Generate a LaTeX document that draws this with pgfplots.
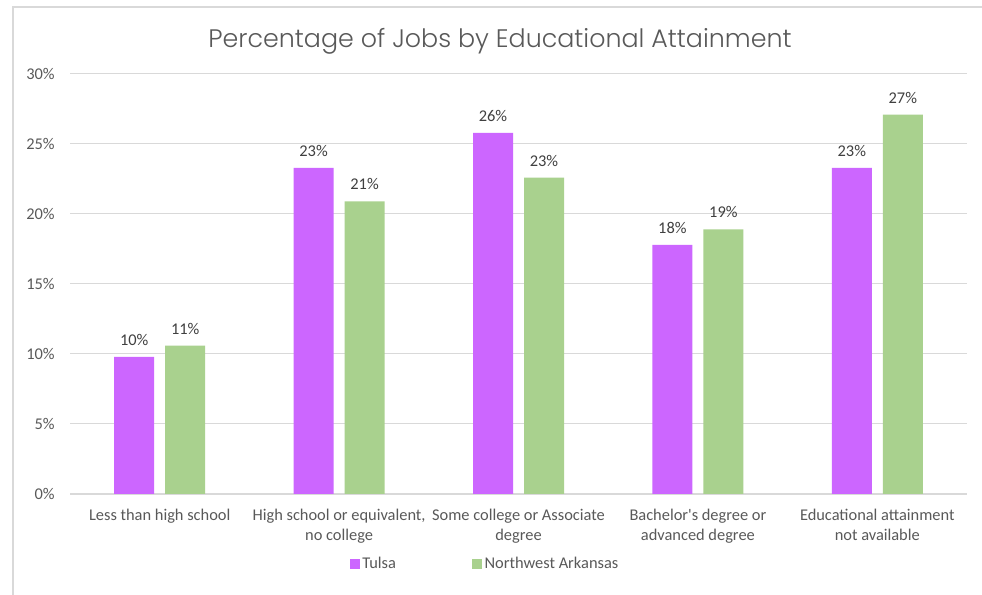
\documentclass[border=0pt]{standalone}
\usepackage{fontspec}
\setmainfont{Carlito}
\newfontfamily\titlefont{Poppins}[UprightFont={* Light}]
\usepackage{pgfplots}
\pgfplotsset{compat=1.18}
\definecolor{tulsa}{HTML}{CC66FF}
\definecolor{nwa}{HTML}{A9D18E}
\definecolor{txt}{HTML}{595959}
\definecolor{lbl}{HTML}{404040}
\definecolor{gridc}{HTML}{D9D9D9}
\begin{document}
\begin{tikzpicture}[x=0.75pt,y=0.75pt]
\useasboundingbox (0,0) rectangle (982,595);
\fill[white] (0,0) rectangle (982,595);
\draw[gridc,line width=1.2pt] (13,0) -- (13,588) -- (982,588);
\node[font=\titlefont\fontsize{19}{22}\selectfont,text=txt] at (500,554) {Percentage of Jobs by Educational Attainment};
\begin{axis}[
  at={(52.5pt,75.75pt)}, anchor=south west,
  scale only axis, width=672.75pt, height=315pt,
  ybar=8.25pt, bar width=30pt,
  xmin=-0.5, xmax=4.5, ymin=0, ymax=30,
  xtick={0,1,2,3,4},
  xticklabels={Less than high school,{High school or equivalent,\\no college},{Some college or Associate\\degree},{Bachelor\textquotesingle s degree or\\advanced degree},{Educational attainment\\not available}},
  xticklabel style={align=center,font=\fontsize{12.3}{15.5}\selectfont,text=txt,yshift=-7.5pt},
  ytick={0,5,...,30},
  yticklabel={\pgfmathprintnumber{\tick}\%},
  yticklabel style={font=\fontsize{12.3}{14}\selectfont,text=txt,xshift=-8pt},
  /pgf/number format/assume math mode=true,
  major tick length=0pt,
  xtick style={draw=none}, ytick style={draw=none},
  ymajorgrids, grid style={draw=gridc,line width=0.75pt},
  axis x line*=bottom, axis y line*=left,
  y axis line style={draw=none},
  x axis line style={draw=gridc,line width=0.9pt,-},
  nodes near coords={\pgfmathprintnumber[fixed,precision=0]{\pgfplotspointmeta}\%},
  nodes near coords style={font=\fontsize{12.3}{14}\selectfont,text=lbl,yshift=5pt},
  legend style={at={(0.463,-0.166)},anchor=center,draw=none,legend columns=2,font=\fontsize{12.3}{14}\selectfont,text=txt,nodes={inner xsep=2pt},/tikz/every even column/.append style={column sep=55pt}},
  legend image code/.code={\fill[#1] (0pt,-3.75pt) rectangle (7.5pt,3.75pt);},
]
\addplot[fill=tulsa,draw=none] coordinates {(0,9.8) (1,23.3) (2,25.8) (3,17.8) (4,23.3)};
\addplot[fill=nwa,draw=none] coordinates {(0,10.6) (1,20.9) (2,22.6) (3,18.9) (4,27.1)};
\legend{Tulsa,Northwest Arkansas}
\end{axis}
\end{tikzpicture}
\end{document}
